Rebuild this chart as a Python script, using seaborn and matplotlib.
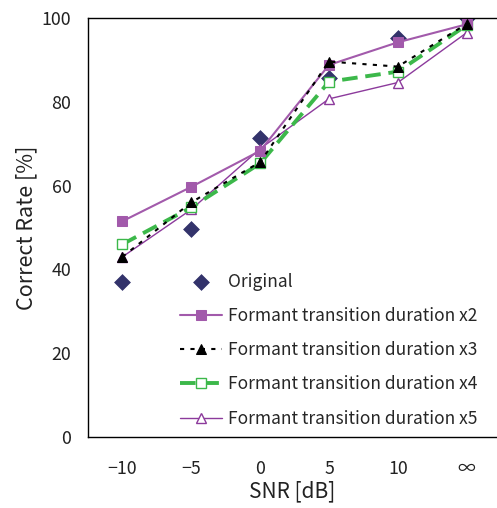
import matplotlib
matplotlib.use("Agg")
import matplotlib.pyplot as plt
import seaborn as sns
import pandas as pd
import numpy as np

snr_labels = ["\u221210", "\u22125", "0", "5", "10", "\u221e"]
original = [37.1, 49.6, 71.3, 85.7, 95.3, 100.0]
dur_x2 = [51.5, 59.7, 68.3, 88.8, 94.2, 98.5]
dur_x3 = [43.0, 56.0, 65.6, 89.6, 88.4, 98.6]
dur_x4 = [46.0, 54.8, 65.3, 84.8, 87.2, 98.3]
dur_x5 = [43.0, 54.3, 68.8, 80.7, 84.6, 96.5]
y_ticks = [0, 20, 40, 60, 80, 100]

sns.set_theme(style="white")
plt.rcParams["font.family"] = ["Noto Sans CJK JP", "DejaVu Sans"]

fig = plt.figure(figsize=(4.97, 5.08), dpi=100)
ax = fig.add_axes([88/497, (508-437)/508, (497-88)/497, (437-18)/508])

pos = np.arange(len(snr_labels))
df = pd.DataFrame({"pos": pos, "orig": original, "x2": dur_x2, "x3": dur_x3,
                   "x4": dur_x4, "x5": dur_x5})

navy = "#33336b"
purple = "#a25aab"
purple2 = "#8c3a9c"
green = "#3cb84a"

sns.lineplot(data=df, x="pos", y="x5", ax=ax, color=purple2, lw=1.0, marker="^",
             markersize=7.5, markerfacecolor="white", markeredgecolor=purple2,
             markeredgewidth=1.0, label="Formant transition duration x5", zorder=3)
sns.lineplot(data=df, x="pos", y="x4", ax=ax, color=green, lw=2.8, linestyle=(0, (4, 2)),
             marker="s", markersize=6.5, markerfacecolor="white", markeredgecolor=green,
             markeredgewidth=1.0, label="Formant transition duration x4", zorder=4)
sns.lineplot(data=df, x="pos", y="x3", ax=ax, color="black", lw=1.5, linestyle=(0, (2, 3)),
             marker="^", markersize=7.5, markerfacecolor="black", markeredgecolor="black",
             label="Formant transition duration x3", zorder=5)
sns.lineplot(data=df, x="pos", y="x2", ax=ax, color=purple, lw=1.5, marker="s",
             markersize=6.5, markerfacecolor=purple, markeredgecolor=purple,
             label="Formant transition duration x2", zorder=4)
sns.scatterplot(data=df, x="pos", y="orig", ax=ax, color=navy, marker="D", s=65,
                edgecolor=navy, linewidth=0.5, label="Original", zorder=2)

ax.set_xlim(-0.5, 5.44)
ax.set_ylim(0, 100)
ax.set_xticks(pos)
ax.set_xticklabels(snr_labels)
ax.set_xticks(pos[:-1] + 0.5, minor=True)
ax.set_yticks(y_ticks)
ax.tick_params(axis="x", which="major", length=0, labelsize=12.8, pad=16.5, colors="#222222")
ax.tick_params(axis="x", which="minor", direction="in", length=5, width=1, color="black")
ax.tick_params(axis="y", direction="out", length=3, width=1, labelsize=12.8, pad=9,
               colors="#222222")
ax.tick_params(axis="y", color="black")
ax.set_xlabel("SNR [dB]", fontsize=15, labelpad=2, color="#222222")
ax.set_ylabel("Correct Rate [%]", fontsize=15.5, labelpad=3, color="#222222")
for s in ["left", "bottom", "top"]:
    ax.spines[s].set_visible(True)
    ax.spines[s].set_color("black")
    ax.spines[s].set_linewidth(1.0)
ax.spines["right"].set_visible(False)

handles, labels = ax.get_legend_handles_labels()
order = ["Original", "Formant transition duration x2", "Formant transition duration x3",
         "Formant transition duration x4", "Formant transition duration x5"]
hmap = dict(zip(labels, handles))
ax.legend([hmap[l] for l in order], order, frameon=False, loc="upper left",
          bbox_to_anchor=(180/497, 1 - 273/508), bbox_transform=fig.transFigure,
          fontsize=12.5, handlelength=2.4, handletextpad=0.35, labelspacing=0.93,
          borderaxespad=0, borderpad=0)

fig.savefig("out.png", dpi=100)
